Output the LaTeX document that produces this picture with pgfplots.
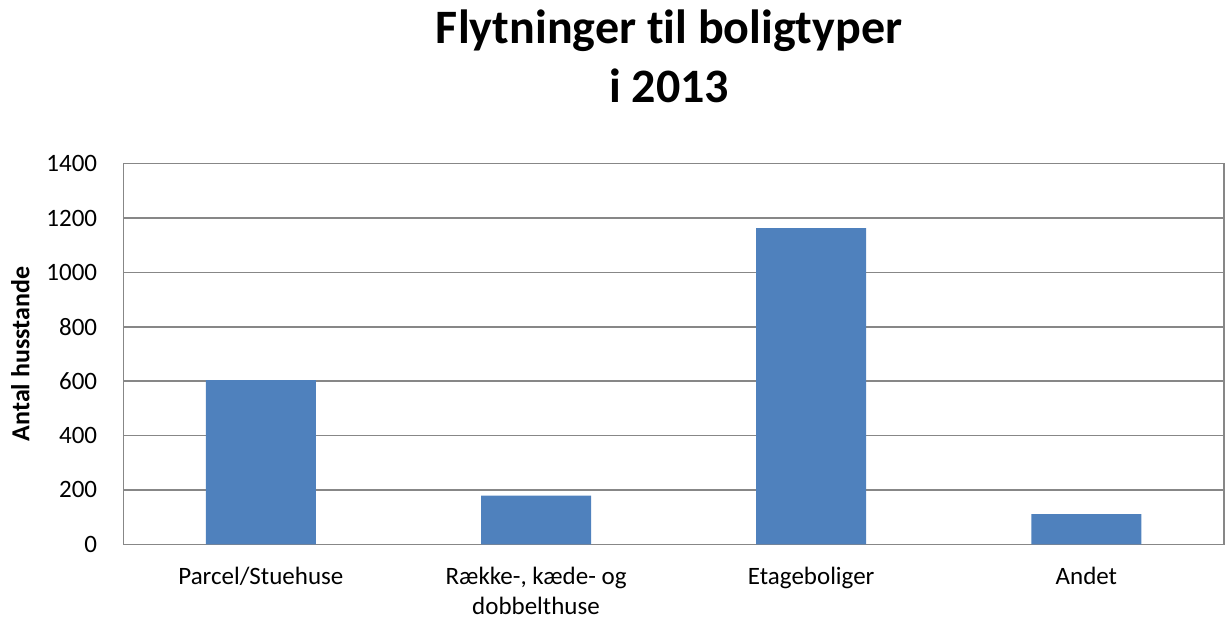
\documentclass[border=0pt]{standalone}
\usepackage{fontspec}
\setmainfont{Carlito}[Ligatures=NoCommon]
\usepackage{pgfplots}
\pgfplotsset{compat=1.18}
\definecolor{barblue}{HTML}{4F81BD}
\definecolor{gridgray}{HTML}{878787}
\begin{document}
\begin{tikzpicture}
\useasboundingbox (0,0) rectangle (1225pt,622pt);
\begin{axis}[
  at={(123.3pt,77.7pt)}, anchor=south west,
  scale only axis, width=1100.7pt, height=380.6pt,
  xmin=-0.5, xmax=3.5, ymin=0, ymax=1400,
  ytick={0,200,...,1400},
  xtick={0,1,2,3},
  xticklabels={Parcel/Stuehuse, {Række-, kæde- og\\dobbelthuse}, Etageboliger, Andet},
  major tick length=0pt,
  axis line style={gridgray, line width=1.5pt},
  ymajorgrids, grid style={gridgray, line width=1.5pt},
  /pgf/number format/assume math mode=true,
  /pgf/number format/1000 sep={},
  tick label style={font=\fontsize{25}{30}\selectfont},
  yticklabel style={anchor=east, inner sep=0pt, xshift=-26pt},
  xticklabel style={anchor=north, inner sep=0pt, yshift=-23pt, align=center},
  ylabel={Antal husstande},
  ylabel style={font=\bfseries\fontsize{26}{30}\selectfont, at={(axis description cs:0,0.5)}, anchor=center, yshift=103pt},
  clip=false,
]
\addplot[ybar, bar width=110pt, fill=barblue, draw=none] coordinates {(0,604) (1,179) (2,1163) (3,111)};
\end{axis}
\node[anchor=base, font=\bfseries\fontsize{48}{56}\selectfont] at (669pt,578.7pt) {Flytninger til boligtyper};
\node[anchor=base, font=\bfseries\fontsize{48}{56}\selectfont] at (669pt,519pt) {i 2013};
\end{tikzpicture}
\end{document}
